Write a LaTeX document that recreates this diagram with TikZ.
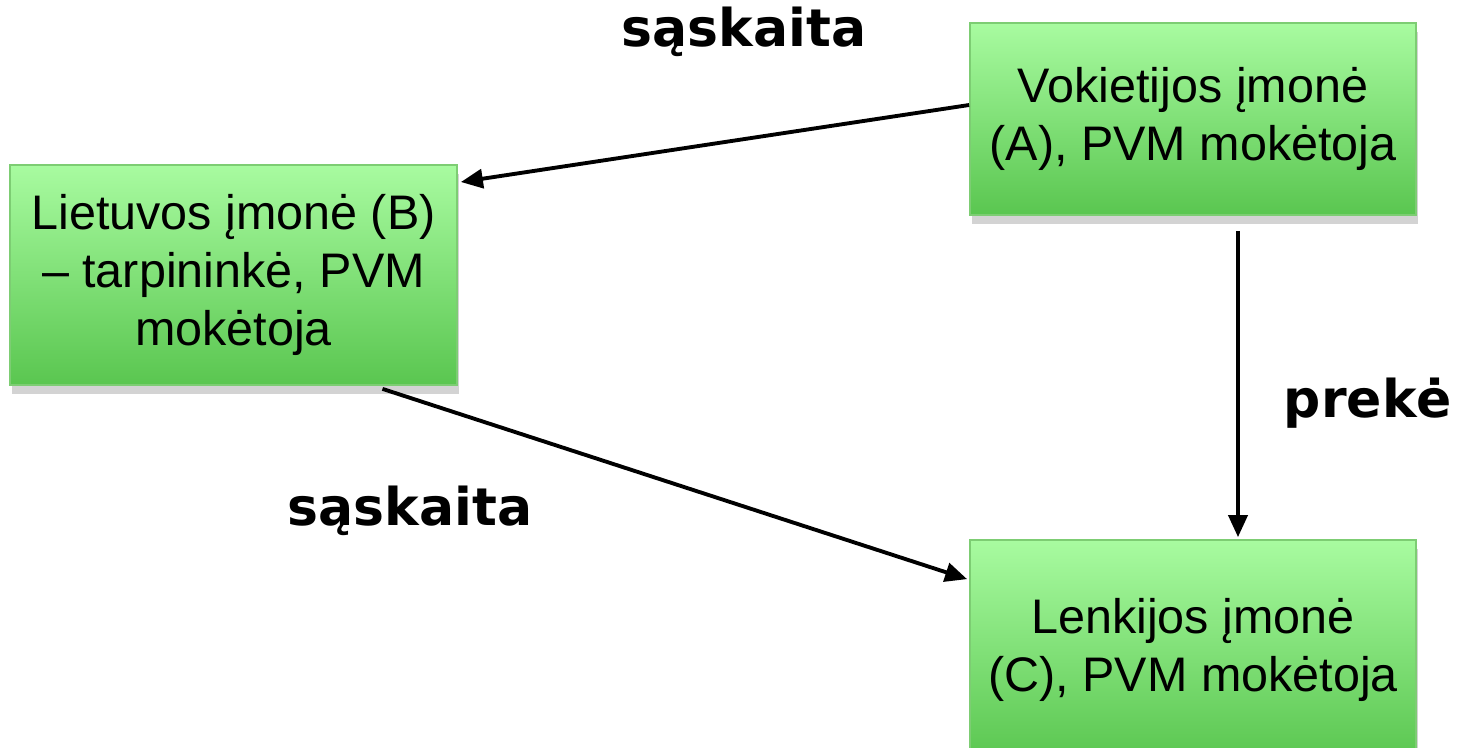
\documentclass[tikz,border=0pt]{standalone}
\usepackage{fontspec}
\setmainfont{Liberation Sans}
\newfontfamily\lblfont{DejaVu Sans}
\usetikzlibrary{arrows.meta,shadows}

\tikzset{
  firm/.style={rectangle,draw={rgb,255:red,125;green,205;blue,115},line width=0.5pt,
    top color={rgb,255:red,168;green,251;blue,160},bottom color={rgb,255:red,90;green,198;blue,80},
    drop shadow={shadow xshift=0.5pt,shadow yshift=-2.5pt,opacity=0.35},
    align=center,font=\fontsize{13.8}{16.5}\selectfont,inner sep=0pt},
  flow/.style={-{Triangle[length=0.22cm,width=0.19cm]},line width=1.1pt},
  tag/.style={font=\lblfont\bfseries\fontsize{14.8}{17}\selectfont}
}

\begin{document}
\begin{tikzpicture}
\useasboundingbox (0,0) rectangle (14.6,-7.47);

\node (a) at (11.93,-1.19) [firm,minimum width=4.46cm,minimum height=1.92cm] {Vokietijos įmonė\\(A), PVM mokėtoja};
\node (b) at (2.335,-2.75) [firm,minimum width=4.47cm,minimum height=2.2cm] {Lietuvos įmonė (B)\\– tarpininkė, PVM\\mokėtoja};
\node (c) at (11.93,-6.5) [firm,minimum width=4.46cm,minimum height=2.2cm] {Lenkijos įmonė\\(C), PVM mokėtoja};

\node (s1) at (7.44,-0.32) [tag] {sąskaita};
\node (s2) at (4.10,-5.11) [tag] {sąskaita};
\node (p) at (13.68,-4.03) [tag] {prekė};

\draw [flow] ([yshift=0.14cm]a.west) -- ([xshift=0.03cm,yshift=0.93cm]b.east);
\draw [flow] ([xshift=1.49cm,yshift=-0.03cm]b.south) -- ([xshift=-0.02cm,yshift=-0.4cm]c.north west);
\draw [flow] ([xshift=0.45cm,yshift=-0.15cm]a.south) -- ([xshift=0.45cm,yshift=0.02cm]c.north);

\end{tikzpicture}
\end{document}
